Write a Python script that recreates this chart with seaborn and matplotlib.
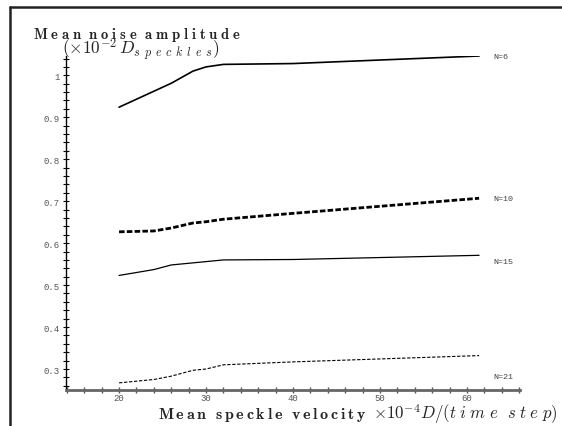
import matplotlib
matplotlib.use("Agg")
import pandas as pd
import matplotlib.pyplot as plt
import seaborn as sns
from matplotlib.lines import Line2D
from matplotlib.ticker import MultipleLocator, FuncFormatter

# Mean speckle velocity (x 1e-4 D / time step)
velocity = [20, 24, 26, 28.5, 30, 32, 40, 61.4]

# Mean noise amplitude (x 1e-2 D_speckles), one curve per N
noise_n6 = [0.924, 0.962, 0.981, 1.010, 1.020, 1.026, 1.028, 1.046]
noise_n10 = [0.627, 0.629, 0.636, 0.648, 0.651, 0.657, 0.671, 0.707]
noise_n15 = [0.523, 0.537, 0.548, 0.553, 0.556, 0.560, 0.561, 0.571]
noise_n21 = [0.267, 0.275, 0.283, 0.297, 0.300, 0.310, 0.317, 0.332]

series_names = ['N=6', 'N=10', 'N=15', 'N=21']
series_values = [noise_n6, noise_n10, noise_n15, noise_n21]

df = pd.concat([pd.DataFrame({'velocity': velocity, 'noise': v, 'N': n})
                for n, v in zip(series_names, series_values)])


def spaced(text, style, gap):
    # maple-like letter spaced mathtext
    sep = r'\hspace{%g}' % gap
    words = text.split(' ')
    return r'\ \ '.join(r'\math%s{%s}' % (style, sep.join(w)) for w in words)


sns.set_style("ticks")
plt.rcParams['mathtext.fontset'] = 'cm'

fig = plt.figure(figsize=(5.62, 4.27), dpi=100)
ax = fig.add_axes([66 / 562, 1 - 391 / 427, (520 - 66) / 562, (391 - 57) / 427])

styles = {
    'N=6': dict(lw=1.2, ls='-'),
    'N=10': dict(lw=2.0, ls=(0, (2.0, 0.8))),
    'N=15': dict(lw=0.9, ls='-'),
    'N=21': dict(lw=0.8, ls=(0, (3.0, 1.5))),
}
for name in series_names:
    sub = df[df['N'] == name]
    sns.lineplot(data=sub, x='velocity', y='noise', ax=ax, color='black',
                 estimator=None, sort=False, **styles[name])

# curve labels to the right of the lines
label_y = {'N=6': 1.046, 'N=10': 0.707, 'N=15': 0.557, 'N=21': 0.281}
for name in series_names:
    ax.text(63, label_y[name], name, fontsize=6, family='Liberation Mono',
            color='#444444', va='center', ha='left')

ax.set_xlim(13.9, 66.1)
ax.set_ylim(0.25, 1.046)
ax.set_xlabel('')
ax.set_ylabel('')

ax.xaxis.set_major_locator(MultipleLocator(10))
ax.xaxis.set_minor_locator(MultipleLocator(2))
ax.yaxis.set_major_locator(MultipleLocator(0.1))
ax.yaxis.set_minor_locator(MultipleLocator(0.02))
ax.yaxis.set_major_formatter(FuncFormatter(lambda v, p: '%g' % round(v, 2)))
ax.xaxis.set_major_formatter(FuncFormatter(lambda v, p: '%g' % v))

for s in ['top', 'right']:
    ax.spines[s].set_visible(False)
ax.spines['left'].set_color('black')
ax.spines['left'].set_linewidth(1.0)
ax.spines['bottom'].set_color('#666666')
ax.spines['bottom'].set_linewidth(2.0)

ax.tick_params(axis='both', which='major', direction='inout', length=5,
               labelsize=6.5, labelcolor='#555555')
ax.tick_params(axis='x', which='major', pad=-0.5)
ax.tick_params(axis='y', which='major', pad=2)
ax.tick_params(axis='both', which='minor', direction='inout', length=4)
ax.tick_params(axis='x', which='both', color='#555555', width=1.0)
ax.tick_params(axis='y', which='both', color='black', width=0.8)
for lab in ax.get_xticklabels() + ax.get_yticklabels():
    lab.set_family('Liberation Mono')

# y axis title, two lines at the top left
fig.text(33 / 562, 1 - 35 / 427,
         '$' + spaced('Mean noise amplitude', 'bf', 0.3) + '$',
         fontsize=10.5, ha='left', va='center')
fig.text(62 / 562, 1 - 50 / 427,
         r'$(\times\mathsf{10}^{\mathsf{-2}}\,D_{' + spaced('speckles', 'it', 0.45) + '})$',
         fontsize=12.5, ha='left', va='center')

# x axis title
fig.text(158 / 562, 1 - 415 / 427,
         '$' + spaced('Mean speckle velocity', 'bf', 0.2) + '$',
         fontsize=11.5, ha='left', va='center')
fig.text(373 / 562, 1 - 414 / 427,
         r'$\times\mathsf{10}^{\mathsf{-4}}D/(' + spaced('time step', 'it', 0.3) + ')$',
         fontsize=12.2, ha='left', va='center')

# page frame (top and left edges)
fig.add_artist(Line2D([9.5 / 562, 1], [1 - 7.5 / 427] * 2, color='#222222', lw=1.8))
fig.add_artist(Line2D([9.5 / 562] * 2, [0, 1 - 7.5 / 427], color='#222222', lw=1.8))

fig.savefig('out.png', dpi=100)
